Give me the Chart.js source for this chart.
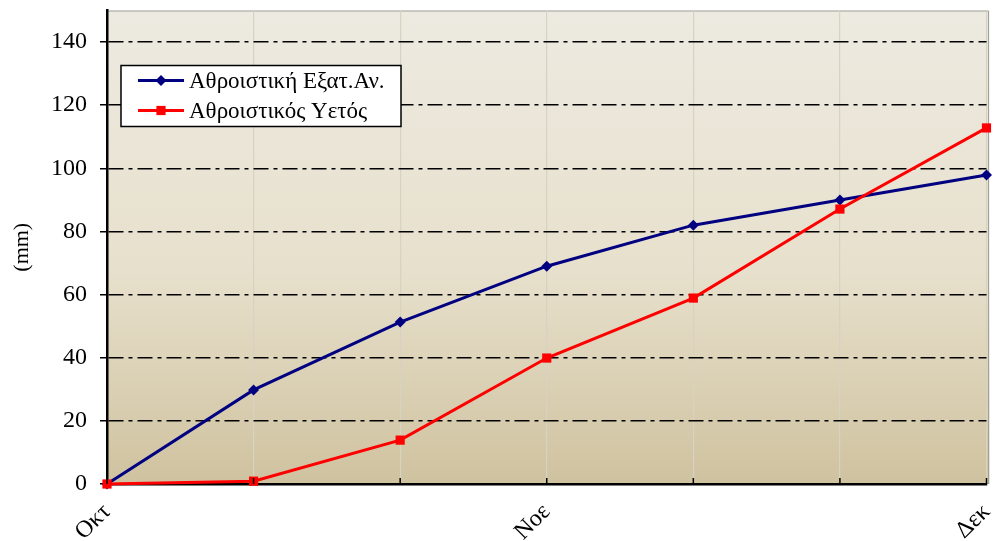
<!DOCTYPE html>
<html>
<head>
<meta charset="utf-8">
<script src="https://cdn.jsdelivr.net/npm/chart.js@4.4.1/dist/chart.umd.min.js"></script>
<style>
  html, body { margin: 0; padding: 0; background: #fff; }
  #wrap { width: 993px; height: 541px; position: relative; }
</style>
</head>
<body>
<div id="wrap"><canvas id="chart"></canvas></div>
<script>
const months = ['Οκτ', '', '', 'Νοε', '', '', 'Δεκ'];
const evapCum = [0, 29.8, 51.3, 69.0, 82.0, 90.0, 97.9];
const rainCum = [0, 0.9, 13.9, 39.9, 58.9, 87.1, 112.8];
const yTicks = [0, 20, 40, 60, 80, 100, 120, 140];
const seriesNames = ['Αθροιστική Εξατ.Αν.', 'Αθροιστικός Υετός'];

const FONT = "'Palatino Linotype', 'Book Antiqua', Palatino, 'Liberation Serif', serif";

// background gradient + frame + inner x ticks + legend box
const decor = {
    id: 'decor',
    beforeDraw(chart) {
        const { ctx, chartArea: a } = chart;
        const g = ctx.createLinearGradient(0, a.top, 0, a.bottom);
        g.addColorStop(0, '#edeae1');
        g.addColorStop(0.55, '#e7e0cc');
        g.addColorStop(1, '#cfc29f');
        ctx.save();
        ctx.fillStyle = g;
        ctx.fillRect(a.left, a.top, a.right - a.left + 3, a.bottom - a.top);
        ctx.strokeStyle = '#a0a0a0';
        ctx.lineWidth = 1;
        ctx.beginPath();
        ctx.moveTo(a.left, a.top + 0.5);
        ctx.lineTo(a.right + 2, a.top + 0.5);
        ctx.lineTo(a.right + 2, a.bottom);
        ctx.stroke();
        ctx.restore();
    },
    afterDraw(chart) {
        const { ctx, chartArea: a, scales } = chart;
        ctx.save();
        // inner tick marks on the x axis
        ctx.strokeStyle = '#000';
        ctx.lineWidth = 1.5;
        months.forEach((m, i) => {
            const x = scales.x.getPixelForValue(i);
            ctx.beginPath();
            ctx.moveTo(x, a.bottom);
            ctx.lineTo(x, a.bottom - 6);
            ctx.stroke();
        });
        // legend
        const bx = a.left + 14, by = a.top + 55, bw = 280, bh = 61;
        ctx.fillStyle = '#fff';
        ctx.fillRect(bx, by, bw, bh);
        ctx.strokeStyle = '#000';
        ctx.lineWidth = 1.5;
        ctx.strokeRect(bx, by, bw, bh);
        chart.data.datasets.forEach((ds, i) => {
            const y = by + 15 + i * 30;
            ctx.strokeStyle = ds.borderColor;
            ctx.lineWidth = 3;
            ctx.beginPath();
            ctx.moveTo(bx + 17, y);
            ctx.lineTo(bx + 63, y);
            ctx.stroke();
            ctx.fillStyle = ds.borderColor;
            ctx.beginPath();
            const r = ds.pointRadius;
            if (ds.pointStyle === 'rect') {
                const s = r * Math.SQRT1_2;
                ctx.rect(bx + 40 - s, y - s, 2 * s, 2 * s);
            } else {
                ctx.moveTo(bx + 40, y - r);
                ctx.lineTo(bx + 40 + r, y);
                ctx.lineTo(bx + 40, y + r);
                ctx.lineTo(bx + 40 - r, y);
                ctx.closePath();
            }
            ctx.fill();
            ctx.fillStyle = '#000';
            ctx.font = '23px ' + FONT;
            ctx.textBaseline = 'middle';
            ctx.fillText(ds.label, bx + 68, y + 1);
        });
        ctx.restore();
    }
};

const ctx = document.getElementById('chart');
new Chart(ctx, {
    type: 'line',
    data: {
        labels: months,
        datasets: [{
            label: seriesNames[0],
            data: evapCum,
            borderColor: '#000080',
            backgroundColor: '#000080',
            borderWidth: 3,
            pointStyle: 'rectRot',
            pointRadius: 5.5,
            pointBorderWidth: 0,
            tension: 0,
            clip: false,
            order: 1
        }, {
            label: seriesNames[1],
            data: rainCum,
            borderColor: '#ff0000',
            backgroundColor: '#ff0000',
            borderWidth: 3,
            pointStyle: 'rect',
            pointRadius: 6.5,
            pointBorderWidth: 0,
            tension: 0,
            clip: false,
            order: 0
        }]
    },
    options: {
        responsive: true,
        maintainAspectRatio: false,
        animation: false,
        layout: { padding: { top: 10.5, right: -3, left: 0, bottom: 0 } },
        plugins: {
            legend: { display: false },
            tooltip: { enabled: false }
        },
        scales: {
            x: {
                offset: false,
                grid: { color: '#d8d2c2', lineWidth: 1.2, drawTicks: false },
                border: { color: '#000', width: 2.5 },
                ticks: {
                    autoSkip: false,
                    maxRotation: 45,
                    minRotation: 45,
                    padding: 14,
                    color: '#000',
                    font: { family: FONT, size: 24 }
                },
                afterFit: s => {
                    s.height = 57;
                    s.paddingLeft = 0;
                    s.paddingRight = 0;
                }
            },
            y: {
                min: 0,
                max: 150,
                afterBuildTicks: s => { s.ticks = yTicks.map(v => ({ value: v })); },
                grid: {
                    color: '#000',
                    lineWidth: 1.5,
                    tickLength: 7,
                    tickColor: '#000',
                    tickWidth: 1.5,
                    tickBorderDash: []
                },
                border: { color: '#000', width: 2.5, dash: [15, 5, 4, 5] },
                ticks: {
                    padding: 13,
                    color: '#000',
                    font: { family: FONT, size: 24 }
                },
                title: {
                    display: true,
                    text: '(mm)',
                    color: '#000',
                    font: { family: FONT, size: 22 },
                    padding: { top: 9, bottom: 0 }
                },
                afterFit: s => {
                    s.width = 107;
                    s.paddingTop = 0;
                    s.paddingBottom = 0;
                }
            }
        }
    },
    plugins: [decor]
});
</script>
</body>
</html>
